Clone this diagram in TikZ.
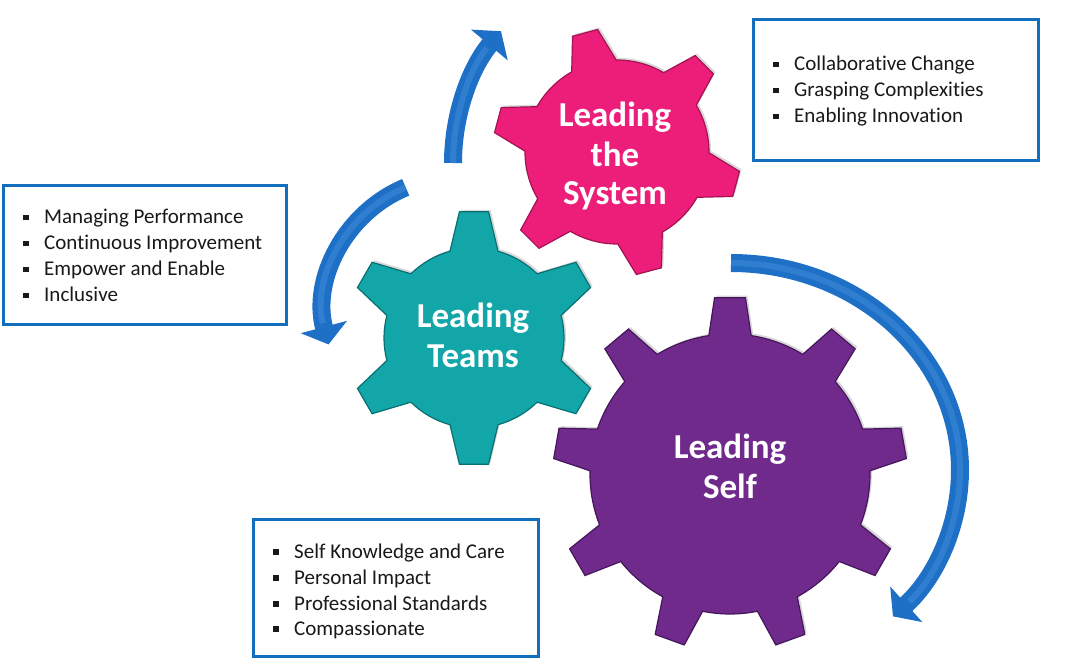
\documentclass[tikz,border=0pt]{standalone}
\usepackage{fontspec}
\setmainfont{Carlito}[Ligatures={NoCommon,NoRequired}]
\usetikzlibrary{arrows.meta,shadows}
\definecolor{pinkg}{RGB}{236,30,122}
\definecolor{pinkd}{RGB}{165,18,82}
\definecolor{tealg}{RGB}{18,166,168}
\definecolor{teald}{RGB}{8,112,115}
\definecolor{purpg}{RGB}{112,42,140}
\definecolor{purpd}{RGB}{70,22,92}
\definecolor{arrowb}{RGB}{30,112,198}
\definecolor{arrowl}{RGB}{90,160,230}
\definecolor{boxb}{RGB}{20,110,190}
\definecolor{txt}{RGB}{25,25,25}
\newcommand\mygear[9]{%
  \begin{scope}[shift={(#1,#2)},yscale=-1]
  \path[#9] (#4-#7:#5)
    \foreach \k in {1,...,#3}{
      -- ({#4+(\k-1)*360/#3-#7}:#5) -- ({#4+(\k-1)*360/#3-#8}:#6)
      -- ({#4+(\k-1)*360/#3+#8}:#6) -- ({#4+(\k-1)*360/#3+#7}:#5)
      arc[start angle={#4+(\k-1)*360/#3+#7}, end angle={#4+\k*360/#3-#7}, radius=#5]
    } -- cycle;
  \end{scope}}
\newcommand\mybul{\rule[3.5pt]{5.5pt}{5.5pt}\hspace{15.5pt}}
\begin{document}
\begin{tikzpicture}[x=1pt,y=-1pt,
  arr/.style={line width=18pt, draw=arrowb, -{Triangle[width=47pt,length=18pt]}},
  arrhi/.style={line width=6pt, draw=arrowl, opacity=0.3, shorten >=22pt},
  infobox/.style={draw=boxb, line width=3pt, fill=white, inner sep=0pt, anchor=center},
  listitem/.style={anchor=base west, inner sep=0pt, text=txt, font=\fontsize{21}{25}\selectfont},
  gearlabel/.style={anchor=base, inner sep=0pt, text=white, font=\fontsize{35}{40}\selectfont\bfseries},
  gshadow/.style={drop shadow={opacity=0.3, shadow xshift=2pt, shadow yshift=2pt}},
  pinkgear/.style={fill=pinkg, draw=pinkd, line width=1.2pt, gshadow},
  tealgear/.style={fill=tealg, draw=teald, line width=1.2pt, gshadow},
  purpgear/.style={fill=purpg, draw=purpd, line width=1.2pt, gshadow}]
\useasboundingbox (0,0) rectangle (1072,663);
\fill[white] (0,0) rectangle (1072,663);

% curved arrows
\coordinate (a1s) at (453,163);
\coordinate (a2s) at (405.7,187.3);
\coordinate (a3s) at (731,263);
\draw[arr] (a1s) arc[start angle=180, end angle=220, radius=205];
\draw[arrhi] (a1s) arc[start angle=180, end angle=220, radius=205];
\draw[arr] (a2s) arc[start angle=247.3, end angle=165, radius=133];
\draw[arrhi] (a2s) arc[start angle=247.3, end angle=165, radius=133];
\draw[arr] (a3s) arc[start angle=-90, end angle=45, x radius=229, y radius=207];
\draw[arrhi] (a3s) arc[start angle=-90, end angle=45, x radius=229, y radius=207];

% gears
\mygear{617}{152}{6}{-15}{92}{124}{14.5}{6}{pinkgear}
\mygear{474}{338}{6}{90}{90}{127}{15.5}{6.6}{tealgear}
\mygear{730}{474}{9}{90}{140}{177}{8.7}{5}{purpgear}

% gear labels
\node[gearlabel] (sys1) at (615,127) {Leading};
\node[gearlabel] (sys2) at (615,167) {the};
\node[gearlabel] (sys3) at (615,205) {System};
\node[gearlabel] (tm1) at (473,328) {Leading};
\node[gearlabel] (tm2) at (473,367) {Teams};
\node[gearlabel] (sf1) at (730,458) {Leading};
\node[gearlabel] (sf2) at (730,498) {Self};

% info boxes
\node[infobox, minimum width=285pt, minimum height=141pt] (box1) at (896,90) {};
\node[infobox, minimum width=283pt, minimum height=139pt] (box2) at (145,255.5) {};
\node[infobox, minimum width=285pt, minimum height=136.5pt] (box3) at (396,587.75) {};

\node[listitem] (b1a) at (773,71) {\mybul Collaborative Change};
\node[listitem] (b1b) at (773,97) {\mybul Grasping Complexities};
\node[listitem] (b1c) at (773,123) {\mybul Enabling Innovation};

\node[listitem] (b2a) at (23,224) {\mybul Managing Performance};
\node[listitem] (b2b) at (23,250) {\mybul Continuous Improvement};
\node[listitem] (b2c) at (23,276) {\mybul Empower and Enable};
\node[listitem] (b2d) at (23,302) {\mybul Inclusive};

\node[listitem] (b3a) at (273,558) {\mybul Self Knowledge and Care};
\node[listitem] (b3b) at (273,584) {\mybul Personal Impact};
\node[listitem] (b3c) at (273,610) {\mybul Professional Standards};
\node[listitem] (b3d) at (273,635) {\mybul Compassionate};
\end{tikzpicture}
\end{document}
